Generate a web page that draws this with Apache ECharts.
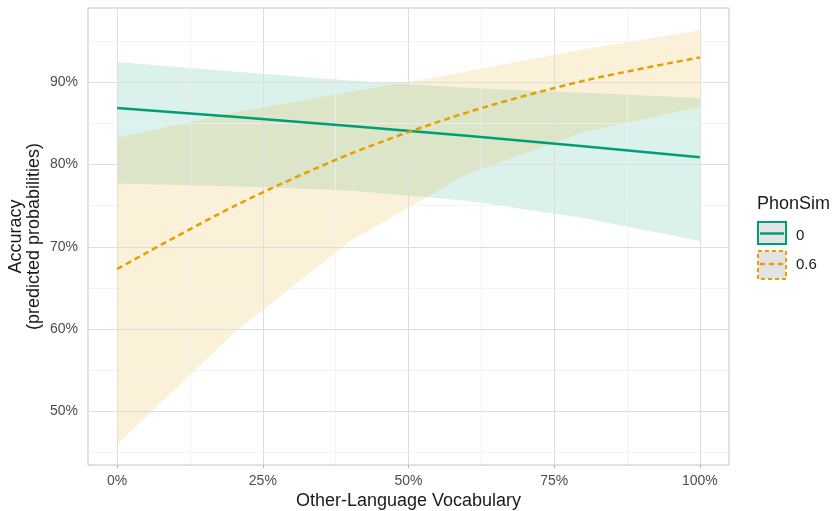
<!DOCTYPE html>
<html>
<head>
<meta charset="utf-8">
<script src="https://cdn.jsdelivr.net/npm/echarts@6/dist/echarts.min.js"></script>
<style>
html,body{margin:0;padding:0;background:#fff;}
#chart{width:834px;height:511px;}
</style>
</head>
<body>
<div id="chart"></div>
<script>
// ---- data ----
const vocab = [0, 20, 40, 60, 80, 100];           // Other-Language Vocabulary (%)
const fit0  = [86.85, 85.8, 84.67, 83.48, 82.2, 80.86];
const lo0   = [77.7, 77.35, 76.85, 75.6, 73.5, 70.7];
const hi0   = [92.45, 91.3, 90.2, 89.3, 88.7, 88.06];
const fit06 = [67.3, 74.9, 81.28, 86.3, 90.15, 93.0];
const lo06  = [46.0, 59.5, 70.7, 78.8, 83.9, 87.0];
const hi06  = [83.2, 86.3, 88.8, 91.3, 94.0, 96.3];
const phonSimLevels = ['0', '0.6'];
const xTicks = [0, 25, 50, 75, 100];
const xMinor = [12.5, 37.5, 62.5, 87.5];
const yTicks = [50, 60, 70, 80, 90];
const yMinor = [45, 55, 65, 75, 85, 95];

const GREEN = '#009E73', ORANGE = '#E69F00';
const FONT = '"Liberation Sans", Arial, sans-serif';

const pairs = (ys) => vocab.map((x, i) => [x, ys[i]]);

const gridLines = [
  ...yMinor.map(v => ({yAxis: v, lineStyle: {color: '#f0f0f0', width: 0.8, type: 'solid'}})),
  ...xMinor.map(v => ({xAxis: v, lineStyle: {color: '#f0f0f0', width: 0.8, type: 'solid'}})),
  ...yTicks.map(v => ({yAxis: v, lineStyle: {color: '#dedede', width: 1, type: 'solid'}})),
  ...xTicks.map(v => ({xAxis: v, lineStyle: {color: '#dedede', width: 1, type: 'solid'}}))
];

function ribbon(lo, hi, color, opacity) {
  return {
    type: 'custom',
    silent: true,
    z: 2,
    data: vocab.map((x, i) => [x, lo[i], hi[i]]),
    encode: {x: 0, y: [1, 2]},
    renderItem: function (params, api) {
      if (params.dataIndex !== 0) return null;
      const top = vocab.map((x, i) => api.coord([x, hi[i]]));
      const bot = vocab.map((x, i) => api.coord([x, lo[i]])).reverse();
      return {
        type: 'polygon',
        shape: {points: top.concat(bot)},
        style: {fill: color, opacity: opacity, stroke: null}
      };
    }
  };
}

const chart = echarts.init(document.getElementById('chart'), null, {renderer: 'canvas'});
chart.setOption({
  animation: false,
  backgroundColor: '#ffffff',
  grid: {left: 88, top: 8, right: 105, bottom: 46, outerBoundsMode: 'none', containLabel: false,
         show: true, borderColor: '#c4c4c4', borderWidth: 1, backgroundColor: 'transparent'},
  xAxis: {
    type: 'value', min: -5, max: 105,
    axisLine: {show: false},
    splitLine: {show: false},
    axisTick: {show: true, customValues: xTicks, length: 3, lineStyle: {color: '#b3b3b3'}},
    axisLabel: {customValues: xTicks, formatter: v => v + '%', color: '#4d4d4d', fontSize: 14, fontFamily: FONT, margin: 9},
    name: 'Other-Language Vocabulary', nameLocation: 'middle', nameGap: 27, nameMoveOverlap: false,
    nameTextStyle: {color: '#1a1a1a', fontSize: 18, fontFamily: FONT}
  },
  yAxis: {
    type: 'value', min: 43.5, max: 99,
    axisLine: {show: false},
    splitLine: {show: false},
    axisTick: {show: true, customValues: yTicks, length: 3, lineStyle: {color: '#b3b3b3'}},
    axisLabel: {customValues: yTicks, formatter: v => v + '%', color: '#4d4d4d', fontSize: 14, fontFamily: FONT, margin: 10},
    name: 'Accuracy\n(predicted probabilities)', nameLocation: 'middle', nameGap: 45, nameRotate: 90, nameMoveOverlap: false,
    nameTextStyle: {color: '#1a1a1a', fontSize: 18, fontFamily: FONT, lineHeight: 18}
  },
  series: [
    {type: 'line', name: 'grid', data: pairs(fit0), symbol: 'none', silent: true,
     lineStyle: {opacity: 0}, z: 1,
     markLine: {silent: true, symbol: 'none', label: {show: false}, animation: false, data: gridLines}},
    ribbon(lo0, hi0, GREEN, 0.14),
    ribbon(lo06, hi06, ORANGE, 0.15),
    {type: 'line', name: phonSimLevels[0], data: pairs(fit0), symbol: 'none',
     lineStyle: {color: GREEN, width: 2.5}, z: 5},
    {type: 'line', name: phonSimLevels[1], data: pairs(fit06), symbol: 'none', smooth: 0.3,
     lineStyle: {color: ORANGE, width: 2.5, type: [6, 4]}, z: 5}
  ],
  graphic: [
    {type: 'text', x: 757, y: 204.5, style: {text: 'PhonSim', fill: '#1a1a1a', font: '18px ' + FONT, verticalAlign: 'middle'}},
    {type: 'rect', shape: {x: 758, y: 222, width: 28, height: 22}, style: {fill: '#e3e3e3', stroke: GREEN, lineWidth: 2}},
    {type: 'line', shape: {x1: 760, y1: 233.5, x2: 784, y2: 233.5}, style: {stroke: GREEN, lineWidth: 2.5}},
    {type: 'text', x: 796, y: 236, style: {text: phonSimLevels[0], fill: '#1a1a1a', font: '15px ' + FONT, verticalAlign: 'middle'}},
    {type: 'rect', shape: {x: 758, y: 251, width: 28, height: 28}, style: {fill: '#e3e3e3', stroke: ORANGE, lineWidth: 2, lineDash: [4, 3]}},
    {type: 'line', shape: {x1: 760, y1: 264, x2: 784, y2: 264}, style: {stroke: ORANGE, lineWidth: 2.5, lineDash: [5, 4]}},
    {type: 'text', x: 796, y: 265, style: {text: phonSimLevels[1], fill: '#1a1a1a', font: '15px ' + FONT, verticalAlign: 'middle'}}
  ]
});
</script>
</body>
</html>
